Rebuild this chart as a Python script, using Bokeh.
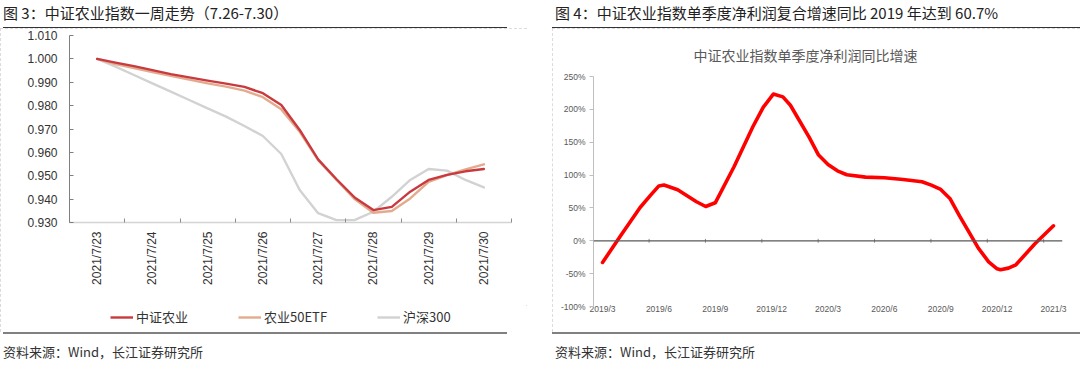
import math
from bokeh.plotting import figure
from bokeh.models import (FixedTicker, Legend, LegendItem, Span, Div, Spacer,
                          PrintfTickFormatter, Range1d)
from bokeh.layouts import row, column
from bokeh.embed import file_html
from bokeh.resources import INLINE

# ---------------- Figure 3 data (every 1/3 day) ----------------
dates = ["2021/7/23", "2021/7/24", "2021/7/25", "2021/7/26",
         "2021/7/27", "2021/7/28", "2021/7/29", "2021/7/30"]
csi_agri = [1.0000, 0.9984, 0.9969, 0.9952, 0.9935, 0.9921, 0.9907, 0.9894,
            0.9880, 0.9853, 0.9803, 0.9696, 0.9570, 0.9485, 0.9406, 0.9353,
            0.9367, 0.9432, 0.9482, 0.9504, 0.9519, 0.9529]
agri_etf50 = [1.0000, 0.9978, 0.9961, 0.9944, 0.9927, 0.9911, 0.9895, 0.9881,
              0.9864, 0.9836, 0.9784, 0.9688, 0.9567, 0.9482, 0.9399, 0.9342,
              0.9349, 0.9403, 0.9474, 0.9503, 0.9527, 0.9549]
hs300 = [1.0000, 0.9967, 0.9931, 0.9895, 0.9860, 0.9824, 0.9788, 0.9753,
         0.9713, 0.9670, 0.9593, 0.9439, 0.9340, 0.9310, 0.9311, 0.9346,
         0.9410, 0.9482, 0.9529, 0.9522, 0.9482, 0.9450]
series_names = ["中证农业", "农业50ETF", "沪深300"]
y3_ticks = [0.930, 0.940, 0.950, 0.960, 0.970, 0.980, 0.990, 1.000, 1.010]

# ---------------- Figure 4 data ----------------
quarters = ["2019/3", "2019/6", "2019/9", "2019/12", "2020/3",
            "2020/6", "2020/9", "2020/12", "2021/3"]
curve_pos = [0.0, 0.333, 0.667, 0.85, 1.0, 1.09, 1.333, 1.667, 1.83, 2.0,
             2.333, 2.667, 2.85, 3.03, 3.2, 3.333, 3.667, 3.833, 4.0, 4.167,
             4.333, 4.667, 5.0, 5.333, 5.667, 5.833, 6.0, 6.167, 6.333, 6.667,
             6.85, 7.0, 7.06, 7.2, 7.333, 7.667, 8.0]
profit_growth = [-33.0, 9.1, 50.7, 69.0, 83.5, 84.8, 77.6, 59.4, 52.2, 57.8,
                 112.6, 173.5, 203.0, 223.3, 219.0, 206.2, 157.3, 130.4, 116.2, 106.5,
                 100.5, 96.9, 95.9, 93.3, 89.8, 84.7, 78.1, 63.9, 38.0, -11.2,
                 -32.0, -42.6, -44.1, -41.6, -36.5, -5.0, 22.8]
y4_ticks = [-100, -50, 0, 50, 100, 150, 200, 250]

CJK = "Noto Sans CJK SC"
LAT = "Liberation Sans"
RED, ORANGE, GREY = "#C83A3E", "#E4AA8E", "#D2D2D2"

# ---------------- Figure 3 ----------------
step_pos = [i / 3 for i in range(len(csi_agri))]

p1 = figure(width=527, height=277, x_range=Range1d(-0.5, 7.5),
            y_range=Range1d(0.930, 1.010), title=None,
            output_backend="svg", toolbar_location=None,
            min_border_left=69, min_border_right=16,
            min_border_top=7, min_border_bottom=83)
p1.xgrid.visible = False
p1.ygrid.visible = False
p1.outline_line_color = None

p1.line(step_pos, hs300, line_color=GREY, line_width=2.4,
        line_join="round", line_cap="round")
p1.line(step_pos, agri_etf50, line_color=ORANGE, line_width=2.4,
        line_join="round", line_cap="round")
p1.line(step_pos, csi_agri, line_color=RED, line_width=2.4,
        line_join="round", line_cap="round")

xa = p1.xaxis[0]
xa.ticker = FixedTicker(ticks=list(range(len(dates))),
                        minor_ticks=[i - 0.5 for i in range(len(dates) + 1)])
xa.major_label_overrides = {i: d for i, d in enumerate(dates)}
xa.major_label_orientation = math.pi / 2
xa.major_label_text_font = LAT
xa.major_label_text_font_size = "12px"
xa.major_label_text_color = "#333333"
xa.major_label_standoff = 9
xa.major_tick_in = 0
xa.major_tick_out = 0
xa.minor_tick_in = 4
xa.minor_tick_out = 0
xa.minor_tick_line_color = "#8c8c8c"
xa.axis_line_color = "#d4d4d4"
xa.axis_line_width = 1.5

ya = p1.yaxis[0]
ya.ticker = FixedTicker(ticks=y3_ticks)
ya.formatter = PrintfTickFormatter(format="%.3f")
ya.major_label_text_font = LAT
ya.major_label_text_font_size = "12px"
ya.major_label_text_color = "#333333"
ya.major_label_standoff = 12
ya.major_tick_in = 4
ya.major_tick_out = 0
ya.minor_tick_line_color = None
ya.axis_line_color = "#7f7f7f"
ya.major_tick_line_color = "#7f7f7f"

# legend strip below the chart (its renderers hold no visible data)
nan = float("nan")
p_leg = figure(width=527, height=27, x_range=Range1d(0, 1), y_range=Range1d(0, 1),
               title=None, x_axis_location=None, y_axis_location=None,
               output_backend="svg", toolbar_location=None, min_border=0)
p_leg.xgrid.visible = False
p_leg.ygrid.visible = False
p_leg.outline_line_color = None
l_red = p_leg.line(x=[nan], y=[nan], line_color=RED, line_width=2.4)
l_orng = p_leg.line(x=[nan], y=[nan], line_color=ORANGE, line_width=2.4)
l_grey = p_leg.line(x=[nan], y=[nan], line_color=GREY, line_width=2.4)
legend = Legend(items=[LegendItem(label=series_names[0], renderers=[l_red]),
                       LegendItem(label=series_names[1], renderers=[l_orng]),
                       LegendItem(label=series_names[2], renderers=[l_grey])],
                orientation="horizontal", location=(41, 6),
                glyph_width=23, glyph_height=14, label_height=14,
                label_standoff=3, spacing=50, padding=0, margin=0,
                border_line_color=None, background_fill_alpha=0,
                label_text_font=CJK, label_text_font_size="13px",
                label_text_color="#333333")
p_leg.add_layout(legend)

# ---------------- Figure 4 ----------------
p2 = figure(width=528, height=304, x_range=Range1d(-0.16, 8.16),
            y_range=Range1d(-100, 250),
            title="中证农业指数单季度净利润同比增速",
            output_backend="svg", toolbar_location=None,
            min_border_left=41, min_border_right=18,
            min_border_top=48, min_border_bottom=26,
            styles={"outline": "1px dashed #d0d0d0", "outline-offset": "-1px"})
p2.xgrid.visible = False
p2.ygrid.visible = False
p2.outline_line_color = None
p2.title.align = "left"
p2.title.offset = 100
p2.title.standoff = 24
p2.title.text_font = CJK
p2.title.text_font_size = "14px"
p2.title.text_font_style = "normal"
p2.title.text_color = "#595959"

p2.add_layout(Span(location=0, dimension="width", line_color="#595959",
                   line_width=1.2))
zero_ticks = [i - 0.174 for i in range(1, len(quarters))]
p2.segment(x0=zero_ticks, y0=[-3] * len(zero_ticks), x1=zero_ticks,
           y1=[3] * len(zero_ticks), line_color="#8c8c8c", line_width=1)

p2.line(curve_pos, profit_growth, line_color="#FF0000", line_width=3.6,
        line_join="round", line_cap="round")

xb = p2.xaxis[0]
xb.ticker = FixedTicker(ticks=list(range(len(quarters))))
xb.major_label_overrides = {i: q for i, q in enumerate(quarters)}
xb.major_label_text_font = LAT
xb.major_label_text_font_size = "8.5px"
xb.major_label_text_color = "#595959"
xb.major_label_standoff = -3
xb.major_tick_in = 0
xb.major_tick_out = 0
xb.axis_line_color = None
xb.major_tick_line_color = None
xb.minor_tick_line_color = None

yb = p2.yaxis[0]
yb.ticker = FixedTicker(ticks=y4_ticks)
yb.formatter = PrintfTickFormatter(format="%d%%")
yb.major_label_text_font = LAT
yb.major_label_text_font_size = "8.5px"
yb.major_label_text_color = "#595959"
yb.major_label_standoff = 4
yb.major_tick_in = 0
yb.major_tick_out = 4
yb.minor_tick_line_color = None
yb.axis_line_color = "#bfbfbf"
yb.major_tick_line_color = "#bfbfbf"


# ---------------- Titles & footers ----------------
def title_div(text, w, inner_w, left, pad_left):
    html = (f'<div style="margin-left:{left}px;width:{inner_w}px;height:28px;box-sizing:border-box;'
            f'border-bottom:1.5px solid #333;padding-top:4px;padding-left:{pad_left}px;'
            f"font-family:'{CJK}',sans-serif;font-size:15px;line-height:18px;"
            f'color:#222;white-space:nowrap;overflow:hidden;">{text}</div>')
    return Div(text=html, width=w, height=28, margin=0)


def footer_div(text, w, inner_w, left, pad_left):
    html = (f'<div style="margin-left:{left}px;width:{inner_w}px;height:52px;box-sizing:border-box;'
            f'border-top:2px solid #808080;padding-top:10px;padding-left:{pad_left}px;'
            f"font-family:'{CJK}',sans-serif;font-size:13px;line-height:16px;"
            f'color:#333;white-space:nowrap;">{text}</div>')
    return Div(text=html, width=w, height=52, margin=0)


t3 = title_div("图 3：中证农业指数一周走势（7.26-7.30）", 527, 504, 3, 0)
f3 = footer_div("资料来源：Wind，长江证券研究所", 527, 504, 3, 0)
t4 = title_div("图 4：中证农业指数单季度净利润复合增速同比 2019 年达到 60.7%", 528, 528, 0, 3)
f4 = footer_div("资料来源：Wind，长江证券研究所", 528, 528, 0, 3)

chart3 = column(p1, p_leg, spacing=0,
                styles={"outline": "1px dashed #d0d0d0", "outline-offset": "-1px"})
layout = row(column(t3, chart3, f3, spacing=0),
             Spacer(width=25, height=10),
             column(t4, p2, f4, spacing=0), spacing=0)

open("out.html", "w").write(file_html(layout, INLINE, title="chart"))
